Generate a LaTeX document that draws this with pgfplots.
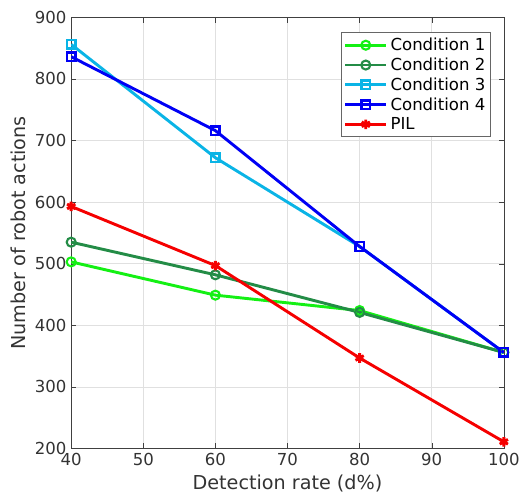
\documentclass[border=0pt]{standalone}
\usepackage{pgfplots}
\pgfplotsset{compat=1.18}
\usepackage{fontspec}
\setmainfont{DejaVu Sans}
\definecolor{cone}{RGB}{20,240,20}
\definecolor{ctwo}{RGB}{35,140,70}
\definecolor{cthree}{RGB}{10,180,230}
\definecolor{cfour}{RGB}{0,0,245}
\definecolor{cpil}{RGB}{245,0,0}
\begin{document}
\begin{tikzpicture}
\begin{axis}[width=327pt, height=326pt, scale only axis,
  xmin=40, xmax=100, ymin=200, ymax=900,
  xtick={40,50,...,100}, ytick={200,300,...,900},
  xlabel={Detection rate (d\%)}, ylabel={Number of robot actions},
  label style={font=\fontsize{14.5}{17}\selectfont, text=black!80},
  tick label style={font=\fontsize{12.5}{15}\selectfont, text=black!80},
  /pgf/number format/assume math mode=true,
  grid=major, grid style={black!12},
  axis line style={black!75}, tick style={black!75},
  tick align=inside, major tick length=4pt,
  legend pos=north east,
  legend style={font=\fontsize{12.5}{15}\selectfont, draw=black!60, row sep=0pt, inner sep=2pt, at={(0.97,0.965)}},
  legend cell align=left,
  legend image code/.code={\draw[line width=2.2pt, mark repeat=2, mark phase=2] plot coordinates {(0cm,0cm) (0.55cm,0cm) (1.1cm,0cm)};},
  every axis plot/.append style={line width=2.2pt}]
\addplot[cone, mark=o, mark size=3.4pt, mark options={line width=1.6pt}] coordinates {(40,503) (60,449) (80,424) (100,356)};
\addlegendentry{Condition 1}
\addplot[ctwo, mark=o, mark size=3.4pt, mark options={line width=1.6pt}] coordinates {(40,535) (60,482) (80,421) (100,356)};
\addlegendentry{Condition 2}
\addplot[cthree, mark=square, mark size=3.2pt, mark options={line width=1.8pt}] coordinates {(40,856) (60,672) (80,528) (100,356)};
\addlegendentry{Condition 3}
\addplot[cfour, mark=square, mark size=3.2pt, mark options={line width=1.8pt}] coordinates {(40,836) (60,716) (80,528) (100,356)};
\addlegendentry{Condition 4}
\addplot[cpil, mark=asterisk, mark size=3.6pt, mark options={line width=2.2pt}] coordinates {(40,593) (60,497) (80,347) (100,211)};
\addlegendentry{PIL}
\end{axis}
\path ([yshift=5pt]current bounding box.north) ([xshift=-5pt]current bounding box.west);
\end{tikzpicture}
\end{document}
